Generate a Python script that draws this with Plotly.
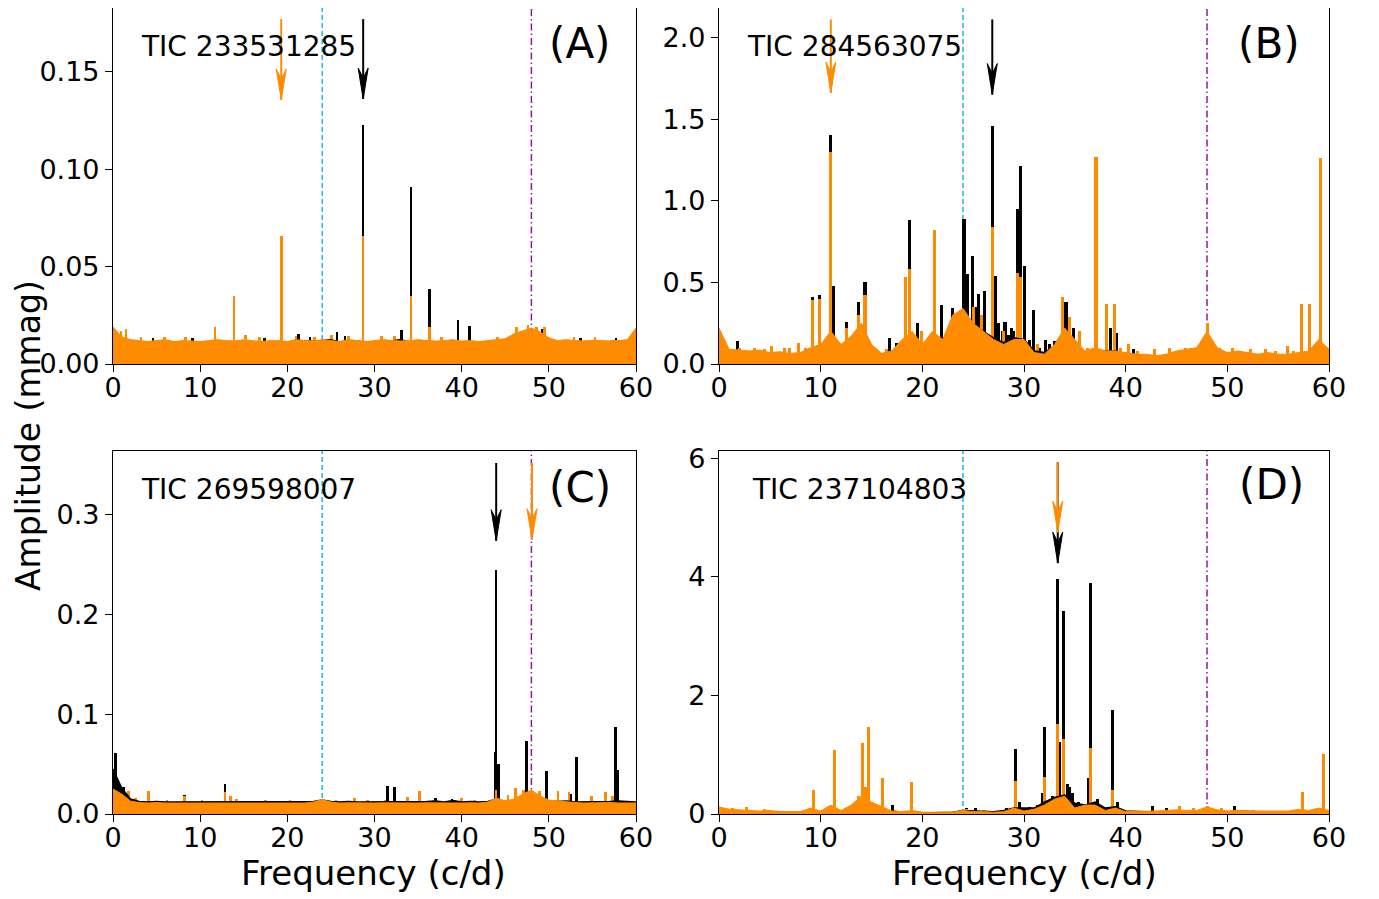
import plotly.graph_objects as go
from plotly.subplots import make_subplots

# amplitude spectra, noise level sampled every 1 c/d from 0 to 60
# black = original, orange = second spectrum (drawn on top)

# ---- (A) TIC 233531285 ----
a_noise_k = [0.017, 0.013, 0.012, 0.0115, 0.011, 0.0112, 0.0118, 0.0112, 0.0112, 0.0112,
             0.011, 0.0112, 0.0115, 0.0112, 0.011, 0.0115, 0.0112, 0.011, 0.0112, 0.0112,
             0.011, 0.0122, 0.0118, 0.0115, 0.012, 0.0125, 0.0112, 0.012, 0.0118, 0.0112,
             0.0112, 0.0115, 0.0118, 0.0125, 0.0112, 0.0118, 0.0115, 0.0112, 0.0112, 0.0115,
             0.0112, 0.0112, 0.011, 0.0112, 0.0115, 0.0125, 0.014, 0.016, 0.017, 0.016,
             0.0125, 0.0112, 0.0115, 0.0112, 0.011, 0.0112, 0.0112, 0.0115, 0.0118, 0.0112, 0.017]
a_noise_o = [0.019, 0.014, 0.0125, 0.012, 0.0115, 0.012, 0.0125, 0.0115, 0.012, 0.0118,
             0.0115, 0.012, 0.0125, 0.012, 0.0118, 0.0125, 0.012, 0.0115, 0.012, 0.012,
             0.0115, 0.0125, 0.012, 0.0118, 0.0125, 0.012, 0.0115, 0.0125, 0.012, 0.0115,
             0.012, 0.0125, 0.012, 0.0118, 0.012, 0.0125, 0.012, 0.0118, 0.012, 0.0125,
             0.0118, 0.012, 0.0115, 0.012, 0.0125, 0.013, 0.0155, 0.017, 0.0185, 0.0165,
             0.0135, 0.012, 0.0125, 0.012, 0.0118, 0.0122, 0.012, 0.0118, 0.012, 0.0125, 0.0185]
a_peak_f_k = [4.6, 9.1, 17.4, 21.3, 22.6, 25.7, 26.6, 28.7, 33.1, 34.2, 36.3, 39.6, 40.9,
              49.3, 53.6, 57.7]
a_peak_a_k = [0.0135, 0.0135, 0.0135, 0.0155, 0.014, 0.0166, 0.0145, 0.1225, 0.0176, 0.0909,
              0.0386, 0.0227, 0.0196, 0.018, 0.0135, 0.0135]
a_peak_f_o = [0.9, 1.5, 3.2, 5.9, 8.3, 11.7, 13.9, 15.2, 16.8, 19.3, 21.0, 23.1, 25.1, 27.0,
              28.7, 30.8, 32.3, 34.2, 36.3, 37.7, 44.1, 46.3, 47.6, 48.6, 49.5, 52.9, 55.3]
a_peak_a_o = [0.017, 0.018, 0.014, 0.014, 0.014, 0.0188, 0.0351, 0.015, 0.014, 0.0658, 0.0145, 0.014,
              0.015, 0.0145, 0.0658, 0.0145, 0.0145, 0.0351, 0.0188, 0.014, 0.014, 0.019, 0.020,
              0.019, 0.019, 0.014, 0.014]

# ---- (B) TIC 284563075 ----
b_noise_k = [0.15, 0.08, 0.075, 0.07, 0.075, 0.06, 0.065, 0.055, 0.06, 0.085,
             0.1, 0.17, 0.11, 0.16, 0.24, 0.1, 0.06, 0.075, 0.13, 0.18,
             0.11, 0.18, 0.14, 0.27, 0.32, 0.24, 0.2, 0.16, 0.13, 0.16,
             0.15, 0.08, 0.07, 0.11, 0.2, 0.12, 0.07, 0.08, 0.08, 0.08,
             0.06, 0.055, 0.05, 0.045, 0.05, 0.07, 0.08, 0.09, 0.18, 0.09,
             0.06, 0.07, 0.06, 0.05, 0.06, 0.05, 0.05, 0.06, 0.07, 0.13, 0.08]
b_noise_o = [0.22, 0.09, 0.085, 0.08, 0.085, 0.07, 0.075, 0.065, 0.07, 0.1,
             0.12, 0.2, 0.12, 0.17, 0.25, 0.12, 0.065, 0.08, 0.15, 0.2,
             0.12, 0.2, 0.15, 0.3, 0.34, 0.25, 0.2, 0.15, 0.12, 0.15,
             0.15, 0.07, 0.06, 0.12, 0.22, 0.15, 0.08, 0.1, 0.08, 0.08,
             0.07, 0.06, 0.06, 0.05, 0.06, 0.08, 0.09, 0.1, 0.2, 0.1,
             0.07, 0.08, 0.07, 0.06, 0.07, 0.06, 0.06, 0.07, 0.08, 0.15, 0.09]
b_peak_f_k = [1.8, 9.2, 9.93, 11.0, 11.25, 12.56, 13.7, 14.36, 16.75, 17.5, 18.72, 19.57,
              21.87, 22.98, 23.5, 24.1, 24.4, 24.9, 25.2, 25.5, 25.8, 26.1, 26.88, 27.15,
              27.5, 27.9, 28.13, 28.5, 28.8, 29.0, 29.34, 29.7, 30.03, 30.5, 30.98, 31.5,
              32.16, 32.5, 33.05, 34.13, 34.85, 38.52, 39.1, 40.8, 51.3]
b_peak_a_k = [0.138, 0.41, 0.42, 1.40, 0.48, 0.26, 0.38, 0.50, 0.16, 0.13, 0.88, 0.25,
              0.36, 0.34, 0.3, 0.89, 0.55, 0.66, 0.35, 0.43, 0.3, 0.45, 1.46, 0.54,
              0.25, 0.2, 0.26, 0.18, 0.22, 0.2, 0.95, 1.21, 0.60, 0.15, 0.33, 0.1,
              0.15, 0.12, 0.14, 0.38, 0.22, 0.22, 0.19, 0.09, 0.08]
b_peak_f_o = [2.0, 3.5, 4.5, 5.2, 6.4, 6.9, 7.8, 8.5, 9.2, 9.93, 11.0, 12.56, 13.7, 14.36,
              15.5, 16.5, 17.9, 18.3, 18.72, 19.9, 20.6, 21.18, 22.5, 23.4, 25.0, 25.8,
              26.88, 28.0, 29.34, 29.7, 31.3, 32.8, 33.74, 34.46, 35.5, 36.2, 37.08, 38.16,
              38.92, 39.5, 40.26, 41.2, 42.8, 44.3, 45.9, 46.5, 48.03, 49.2, 50.5, 52.3,
              53.8, 54.7, 55.9, 56.5, 57.3, 58.06, 59.18]
b_peak_a_o = [0.1, 0.1, 0.09, 0.11, 0.1, 0.1, 0.128, 0.1, 0.39, 0.40, 1.30, 0.22, 0.30, 0.42,
              0.08, 0.09, 0.12, 0.53, 0.58, 0.2, 0.15, 0.82, 0.2, 0.3, 0.35, 0.3,
              0.84, 0.2, 0.56, 0.53, 0.12, 0.1, 0.41, 0.29, 0.20, 0.1, 1.265, 0.37,
              0.37, 0.1, 0.12, 0.08, 0.09, 0.1, 0.1, 0.1, 0.254, 0.1, 0.1, 0.09,
              0.09, 0.08, 0.11, 0.08, 0.37, 0.37, 1.26]

# ---- (C) TIC 269598007 ----
c_noise_k = [0.045, 0.026, 0.015, 0.0125, 0.012, 0.0125, 0.012, 0.012, 0.0125, 0.012,
             0.012, 0.0125, 0.012, 0.0125, 0.012, 0.0125, 0.012, 0.0125, 0.012, 0.0125,
             0.012, 0.0125, 0.012, 0.0125, 0.014, 0.0125, 0.012, 0.0125, 0.012, 0.012,
             0.012, 0.0125, 0.012, 0.0125, 0.0125, 0.012, 0.0125, 0.013, 0.012, 0.0135,
             0.012, 0.0125, 0.012, 0.0125, 0.015, 0.0125, 0.013, 0.018, 0.022, 0.016,
             0.013, 0.0125, 0.013, 0.012, 0.012, 0.0125, 0.012, 0.0125, 0.013, 0.0125, 0.012]
c_noise_o = [0.025, 0.02, 0.013, 0.0115, 0.011, 0.0115, 0.011, 0.011, 0.0112, 0.011,
             0.011, 0.0112, 0.011, 0.0115, 0.011, 0.0112, 0.011, 0.0115, 0.011, 0.0112,
             0.011, 0.0112, 0.011, 0.012, 0.0145, 0.012, 0.011, 0.0112, 0.011, 0.011,
             0.011, 0.0112, 0.011, 0.0115, 0.0112, 0.011, 0.0112, 0.011, 0.011, 0.0112,
             0.011, 0.0112, 0.011, 0.012, 0.016, 0.013, 0.015, 0.02, 0.024, 0.018,
             0.014, 0.013, 0.012, 0.0115, 0.011, 0.0112, 0.011, 0.0115, 0.011, 0.0112, 0.011]
c_peak_f_k = [0.3, 0.7, 1.2, 8.2, 12.85, 31.5, 32.27, 37.0, 38.9, 43.85, 43.96, 44.2,
              47.44, 49.76, 52.5, 53.14, 57.68, 57.9]
c_peak_a_k = [0.061, 0.032, 0.027, 0.019, 0.030, 0.028, 0.027, 0.016, 0.015, 0.062, 0.245, 0.05,
              0.073, 0.043, 0.02, 0.0575, 0.087, 0.044]
c_peak_f_o = [0.2, 1.8, 2.6, 4.06, 6.2, 8.2, 10.2, 12.85, 13.5, 14.2, 17.5, 20.3, 25.6, 27.7,
              29.2, 31.2, 33.8, 35.17, 36.8, 40.0, 41.5, 43.96, 45.3, 46.2, 47.1, 48.9, 51.06,
              52.3, 54.9, 56.5, 57.3]
c_peak_a_o = [0.026, 0.023, 0.016, 0.023, 0.014, 0.018, 0.014, 0.022, 0.018, 0.015, 0.0145, 0.014,
              0.0145, 0.016, 0.014, 0.0145, 0.017, 0.023, 0.0145, 0.016, 0.014, 0.024, 0.019,
              0.026, 0.024, 0.023, 0.023, 0.022, 0.018, 0.022, 0.018]

# ---- (D) TIC 237104803 ----
d_noise_k = [0.06, 0.05, 0.04, 0.04, 0.035, 0.04, 0.03, 0.03, 0.03, 0.05,
             0.03, 0.08, 0.03, 0.08, 0.2, 0.15, 0.07, 0.05, 0.03, 0.04,
             0.02, 0.02, 0.03, 0.03, 0.06, 0.05, 0.04, 0.04, 0.06, 0.1,
             0.1, 0.1, 0.2, 0.28, 0.32, 0.18, 0.15, 0.2, 0.1, 0.12,
             0.05, 0.04, 0.04, 0.04, 0.05, 0.05, 0.04, 0.04, 0.07, 0.05,
             0.04, 0.05, 0.04, 0.04, 0.03, 0.03, 0.03, 0.04, 0.03, 0.05, 0.04]
d_noise_o = [0.12, 0.08, 0.07, 0.06, 0.05, 0.06, 0.04, 0.04, 0.04, 0.1,
             0.05, 0.15, 0.06, 0.15, 0.3, 0.2, 0.12, 0.05, 0.04, 0.06,
             0.03, 0.03, 0.04, 0.03, 0.06, 0.04, 0.04, 0.03, 0.04, 0.1,
             0.05, 0.08, 0.15, 0.25, 0.3, 0.1, 0.15, 0.15, 0.06, 0.1,
             0.04, 0.04, 0.04, 0.05, 0.06, 0.07, 0.06, 0.06, 0.12, 0.07,
             0.05, 0.06, 0.05, 0.05, 0.04, 0.04, 0.05, 0.08, 0.06, 0.1, 0.06]
d_peak_f_k = [17.1, 24.3, 25.2, 28.3, 29.13, 29.6, 30.5, 31.3, 31.83, 32.0, 32.8, 33.32, 33.5,
              33.9, 34.3, 34.5, 34.8, 35.4, 36.3, 36.56, 37.2, 38.73, 39.2, 42.65, 44.0, 50.7]
d_peak_a_k = [0.16, 0.1, 0.1, 0.1, 1.09, 0.2, 0.12, 0.15, 0.36, 1.47, 0.3, 3.97, 1.22,
              3.42, 0.5, 0.45, 0.35, 0.2, 0.6, 3.90, 0.25, 1.75, 0.2, 0.14, 0.1, 0.13]
d_peak_f_o = [1.3, 2.75, 4.5, 9.33, 11.4, 13.7, 14.1, 14.4, 14.7, 16.05, 18.9, 24.3, 26.1,
              29.13, 32.0, 33.32, 33.9, 36.56, 38.73, 45.3, 46.7, 48.06, 49.4, 52.6, 57.4, 59.47]
d_peak_a_o = [0.1, 0.12, 0.08, 0.40, 1.08, 0.3, 1.20, 0.45, 1.47, 0.60, 0.545, 0.08, 0.06,
              0.56, 0.62, 1.51, 1.26, 1.12, 0.40, 0.14, 0.1, 0.14, 0.1, 0.07, 0.376, 1.01]

labels = ["TIC 233531285", "TIC 284563075", "TIC 269598007", "TIC 237104803"]
letters = ["(A)", "(B)", "(C)", "(D)"]

# arrows: frequency, shaft top, tip (amplitude units)
arrow_k = [(28.7, 0.177, 0.136), (26.88, 2.11, 1.65), (43.96, 0.352, 0.274), (33.32, 5.93, 4.23)]
arrow_o = [(19.3, 0.177, 0.1355), (11.0, 2.11, 1.66), (48.07, 0.352, 0.275), (33.32, 5.93, 4.75)]

y_top = [0.1827, 2.18, 0.364, 6.12]
y_ticks = [[0, 0.05, 0.10, 0.15], [0, 0.5, 1.0, 1.5, 2.0], [0, 0.1, 0.2, 0.3], [0, 2, 4, 6]]
y_fmt = [".2f", ".1f", ".1f", "d"]

black = "black"
orange = "#FF8C00"
cyan = "#1CB5EC"
purple = "#8E1A9B"
FONT = "DejaVu Sans"

panels = [
    (a_noise_k, a_noise_o, a_peak_f_k, a_peak_a_k, a_peak_f_o, a_peak_a_o),
    (b_noise_k, b_noise_o, b_peak_f_k, b_peak_a_k, b_peak_f_o, b_peak_a_o),
    (c_noise_k, c_noise_o, c_peak_f_k, c_peak_a_k, c_peak_f_o, c_peak_a_o),
    (d_noise_k, d_noise_o, d_peak_f_k, d_peak_a_k, d_peak_f_o, d_peak_a_o),
]

fig = make_subplots(rows=2, cols=2)

W, H = 1379, 899
OFF = 8  # the page body adds an 8px margin around the figure


def px_x(p):
    return (p - OFF) / W


def px_y(p):
    return 1 - (p - OFF) / H


# plot areas in window pixels: (left, right, top, bottom)
boxes = [(113, 636, 1.5, 364), (719, 1329, 1.5, 364), (113, 636, 451, 814), (719, 1329, 451, 814)]

for i, (nk, no, fk, ak, fo, ao) in enumerate(panels):
    r, c = i // 2 + 1, i % 2 + 1
    fig.add_trace(go.Scatter(x=list(range(len(nk))), y=nk, mode="lines", fill="tozeroy",
                             line=dict(color=black, width=1.5), fillcolor=black,
                             hoverinfo="skip"), row=r, col=c)
    fig.add_trace(go.Bar(x=fk, y=ak, width=0.3, marker=dict(color=black, line_width=0)),
                  row=r, col=c)
    fig.add_trace(go.Scatter(x=list(range(len(no))), y=no, mode="lines", fill="tozeroy",
                             line=dict(color=orange, width=1), fillcolor=orange,
                             hoverinfo="skip"), row=r, col=c)
    fig.add_trace(go.Bar(x=fo, y=ao, width=0.3, marker=dict(color=orange, line_width=0)),
                  row=r, col=c)

    sfx = "" if i == 0 else str(i + 1)
    xr, yr = "x" + sfx, "y" + sfx
    L, R, T, B = boxes[i]
    fig.layout["xaxis" + sfx].update(
        domain=[px_x(L), px_x(R)], range=[0, 60], tickvals=[0, 10, 20, 30, 40, 50, 60],
        ticks="outside", ticklen=7, tickwidth=1.2, tickcolor="black", automargin=False,
        ticklabelstandoff=-8,
        showline=True, mirror=True, linecolor="black", linewidth=1.2,
        showgrid=False, zeroline=False,
        tickfont=dict(family=FONT, size=27, color="black"))
    fig.layout["yaxis" + sfx].update(
        domain=[px_y(B), min(1.0, px_y(T))], range=[0, y_top[i]], tickvals=y_ticks[i],
        tickformat=y_fmt[i], ticks="outside", ticklen=7, tickwidth=1.2, tickcolor="black",
        automargin=False,
        showline=True, mirror=True, linecolor="black", linewidth=1.2,
        showgrid=False, zeroline=False,
        tickfont=dict(family=FONT, size=27, color="black"))

    # 24 c/d and 48 c/d markers
    fig.add_shape(type="line", xref=xr, yref=yr + " domain", x0=24, x1=24, y0=0, y1=1,
                  line=dict(color=cyan, width=1.5, dash="5px,3px"), layer="below")
    fig.add_shape(type="line", xref=xr, yref=yr + " domain", x0=48, x1=48, y0=0, y1=1,
                  line=dict(color=purple, width=1.5, dash="7px,3px,1.5px,3px"), layer="below")

    # arrows (black first, orange on top)
    for (f, top, tip), col in ((arrow_k[i], black), (arrow_o[i], orange)):
        fig.add_shape(type="line", xref=xr, yref=yr, x0=f, x1=f, y0=top, y1=tip,
                      line=dict(color=col, width=2), layer="above")
        fig.add_shape(type="path", xref=xr, yref=yr, xsizemode="pixel", ysizemode="pixel",
                      xanchor=f, yanchor=tip, path="M0,0 L-5,31 L0,21 L5,31 Z",
                      fillcolor=col, line=dict(color=col, width=1), layer="above")

    lbl_x = [0.05, 0.043, 0.05, 0.051][i]
    fig.add_annotation(xref=xr + " domain", yref=yr + " domain", x=lbl_x, y=0.893,
                       text=labels[i], showarrow=False, xanchor="left", yanchor="middle",
                       font=dict(family=FONT, size=28, color="black"))
    fig.add_annotation(xref=xr + " domain", yref=yr + " domain",
                       x=[0.893, 0.902, 0.893, 0.905][i], y=[0.9, 0.9, 0.9, 0.909][i],
                       text=letters[i], showarrow=False, xanchor="center", yanchor="middle",
                       font=dict(family=FONT, size=42, color="black"))

for xc in (374, 1024):
    fig.add_annotation(xref="paper", yref="paper", x=px_x(xc), y=px_y(873), text="Frequency (c/d)",
                       showarrow=False, xanchor="center", yanchor="middle",
                       font=dict(family=FONT, size=34, color="black"))
fig.add_annotation(xref="paper", yref="paper", x=px_x(28), y=px_y(436), text="Amplitude (mmag)",
                   textangle=-90, showarrow=False, xanchor="center", yanchor="middle",
                   font=dict(family=FONT, size=33, color="black"))

fig.update_layout(
    width=W, height=H, margin=dict(l=0, r=0, t=0, b=0),
    barmode="overlay", bargap=0, showlegend=False,
    plot_bgcolor="white", paper_bgcolor="white",
    font=dict(family=FONT, color="black"),
)

fig.write_html("out.html")
